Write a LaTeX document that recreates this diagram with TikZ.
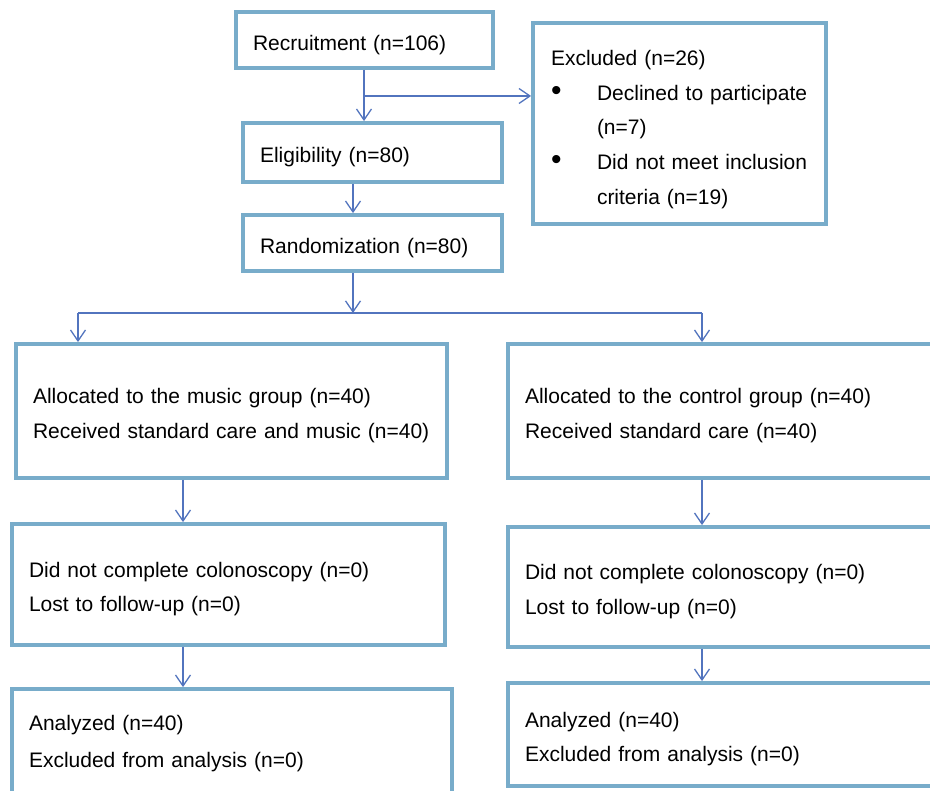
\documentclass[tikz,border=0pt]{standalone}
\usepackage{fontspec}
\setmainfont{Liberation Sans}
\usetikzlibrary{arrows.meta}
\definecolor{boxblue}{RGB}{120,172,202}
\definecolor{arrblue}{RGB}{82,116,190}
\newcommand{\bigdot}{{\fontsize{30}{30}\selectfont\textbullet}}
\tikzset{
	box/.style={draw=boxblue, line width=3.8pt, inner xsep=17pt, inner ysep=0pt, align=left, font=\fontsize{21}{34.5}\selectfont, execute at begin node={\rule{0pt}{24.4pt}}},
	arr/.style={draw=arrblue, line width=1.3pt, -{Straight Barb[length=11pt,width=15pt]}},
	ln/.style={draw=arrblue, line width=1.3pt}
}
\begin{document}
\begin{tikzpicture}[x=1pt,y=-1pt]
	\clip (0,0) rectangle (930,791);
	
	\node[box, text width=223pt, minimum height=56pt] (rec) at (364.5,40) {Recruitment (n=106)};
	\node[box, text width=257pt, inner xsep=18pt, minimum height=201pt, font=\fontsize{21}{34.6}\selectfont, execute at begin node={}] (excl) at (679.5,123.5) {\begin{tabular}{@{}p{46pt}@{}l@{}}
		\multicolumn{2}{@{}l@{}}{\rule{0pt}{33pt}Excluded (n=26)}\\
		\bigdot & Declined to participate\\
		& (n=7)\\
		\bigdot & Did not meet inclusion\\
		& criteria (n=19)
	\end{tabular}};
		\node[box, text width=225pt, minimum height=59pt] (elig) at (372.5,152.5) {Eligibility (n=80)};
		\node[box, text width=225pt, minimum height=56pt] (rand) at (372.5,243) {Randomization (n=80)};
	
	\node[box, text width=397pt, minimum height=134pt] (mus) at (231.5,411) {Allocated to the music group (n=40)\\Received standard care and music (n=40)};
	\node[box, text width=408pt, minimum height=134pt] (ctl) at (729,411) {Allocated to the control group (n=40)\\Received standard care (n=40)};
		\node[box, text width=399pt, minimum height=121pt] (musdrop) at (228.5,584.5) {Did not complete colonoscopy (n=0)\\Lost to follow-up (n=0)};
		\node[box, text width=408pt, minimum height=120pt] (ctldrop) at (729,587) {Did not complete colonoscopy (n=0)\\Lost to follow-up (n=0)};
			\node[box, text width=406pt, minimum height=106pt] (musana) at (232,742) {Analyzed (n=40)\\[2.5pt]Excluded from analysis (n=0)\rule[-10.4pt]{0pt}{0pt}};
			\node[box, text width=408pt, minimum height=103pt] (ctlana) at (729,734.5) {Analyzed (n=40)\\Excluded from analysis (n=0)};
	
	\coordinate (br) at (364,96);
	\coordinate (sp) at (353,313);
	\coordinate (sl) at (78,313);
	\coordinate (sr) at (702,313);
	\coordinate (lc) at (183,0);
	
	\draw[arr] (rec.south -| br) -- (elig.north -| br);
	\draw[arr] (br) -- (br -| excl.west);
		\draw[arr] (elig.south -| sp) -- (rand.north -| sp);
		\draw[arr] (rand.south -| sp) -- (sp);
	\draw[ln] (sl) -- (sr);
	\draw[arr] (sl) -- (mus.north -| sl);
	\draw[arr] (sr) -- (ctl.north -| sr);
		\draw[arr] (mus.south -| lc) -- (musdrop.north -| lc);
		\draw[arr] (musdrop.south -| lc) -- (musana.north -| lc);
		\draw[arr] (ctl.south -| sr) -- (ctldrop.north -| sr);
		\draw[arr] (ctldrop.south -| sr) -- (ctlana.north -| sr);
\end{tikzpicture}
\end{document}
